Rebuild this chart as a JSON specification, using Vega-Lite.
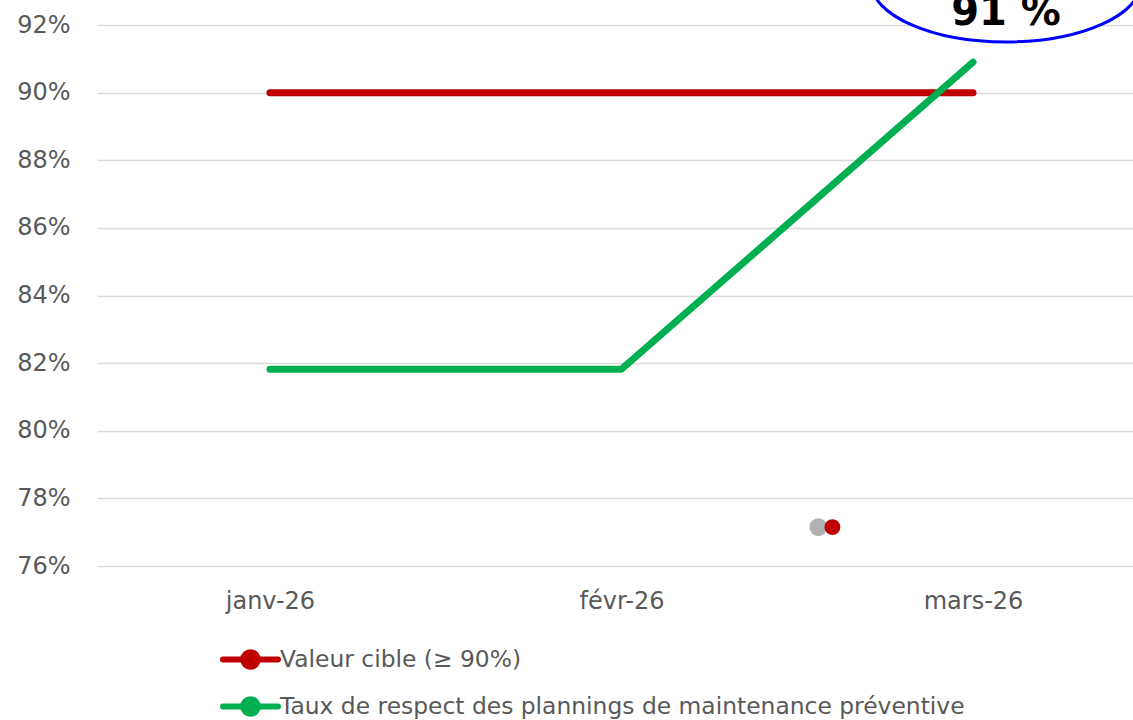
{
  "$schema": "https://vega.github.io/schema/vega-lite/v6.json",
  "width": 1049,
  "height": 541,
  "autosize": {"type": "none"},
  "padding": {"left": 97, "top": 25, "right": 0, "bottom": 154},
  "background": "white",
  "config": {"view": {"stroke": null}, "font": "DejaVu Sans"},
  "datasets": {
    "series": [
      {"serie": "Valeur cible (≥ 90%)", "mois": 0, "valeur": 90},
      {"serie": "Valeur cible (≥ 90%)", "mois": 1, "valeur": 90},
      {"serie": "Valeur cible (≥ 90%)", "mois": 2, "valeur": 90},
      {"serie": "Taux de respect des plannings de maintenance préventive", "mois": 0, "valeur": 81.82},
      {"serie": "Taux de respect des plannings de maintenance préventive", "mois": 1, "valeur": 81.82},
      {"serie": "Taux de respect des plannings de maintenance préventive", "mois": 2, "valeur": 90.9}
    ],
    "point": [{"mois": 1.6, "mois_ombre": 1.56, "valeur": 77.15}],
    "bulle": [{"mois": 2.094, "valeur": 93.27, "texte_y": 92, "label": "91 %"}]
  },
  "layer": [
    {
      "data": {"name": "series"},
      "mark": {"type": "line", "strokeWidth": 7, "strokeCap": "round", "strokeJoin": "round"},
      "encoding": {
        "x": {
          "field": "mois", "type": "quantitative",
          "scale": {"domain": [-0.492, 2.492], "nice": false, "zero": false},
          "axis": {
            "title": null, "values": [0, 1, 2],
            "labelExpr": "['janv-26','févr-26','mars-26'][datum.value]",
            "grid": false, "domain": false, "ticks": false,
            "labelFontSize": 24, "labelColor": "#595959", "labelPadding": 23,
            "labelFont": "DejaVu Sans"
          }
        },
        "y": {
          "field": "valeur", "type": "quantitative",
          "scale": {"domain": [76, 92], "nice": false, "zero": false},
          "axis": {
            "title": null, "values": [76, 78, 80, 82, 84, 86, 88, 90, 92],
            "labelExpr": "datum.value + '%'",
            "grid": true, "gridColor": "#d9d9d9", "gridWidth": 1.5,
            "domain": false, "ticks": false,
            "labelFontSize": 24, "labelColor": "#595959", "labelPadding": 27,
            "labelFont": "DejaVu Sans"
          }
        },
        "color": {
          "field": "serie", "type": "nominal",
          "scale": {
            "domain": ["Valeur cible (≥ 90%)", "Taux de respect des plannings de maintenance préventive"],
            "range": ["#C00000", "#00B050"]
          },
          "legend": {
            "title": null, "orient": "none", "legendX": 132, "legendY": 613,
            "direction": "vertical",
            "symbolType": "M -1.5 0 L 1.5 0 M 0.4 0 A 0.4 0.4 0 1 1 -0.4 0 A 0.4 0.4 0 1 1 0.4 0 Z",
            "symbolSize": 1344, "symbolStrokeWidth": 6,
            "labelFontSize": 23.4, "labelColor": "#595959", "labelFont": "DejaVu Sans",
            "labelOffset": 8, "labelLimit": 0, "rowPadding": 6, "padding": 0,
            "encode": {"symbols": {"update": {"fill": {"scale": "color", "field": "value"}, "strokeCap": {"value": "round"}}}}
          }
        }
      }
    },
    {
      "data": {"name": "point"},
      "mark": {"type": "circle", "size": 320, "color": "#555555", "opacity": 0.45},
      "encoding": {
        "x": {"field": "mois_ombre", "type": "quantitative"},
        "y": {"field": "valeur", "type": "quantitative"}
      }
    },
    {
      "data": {"name": "point"},
      "mark": {"type": "circle", "size": 254, "color": "#C00000", "opacity": 1},
      "encoding": {
        "x": {"field": "mois", "type": "quantitative"},
        "y": {"field": "valeur", "type": "quantitative"}
      }
    },
    {
      "data": {"name": "bulle"},
      "mark": {
        "type": "point", "filled": false,
        "shape": "M -1 0 A 1 0.444 0 1 0 1 0 A 1 0.444 0 1 0 -1 0 Z",
        "size": 72900, "fill": "white", "fillOpacity": 1, "stroke": "#0000FF", "strokeWidth": 3, "opacity": 1
      },
      "encoding": {
        "x": {"field": "mois", "type": "quantitative"},
        "y": {"field": "valeur", "type": "quantitative"}
      }
    },
    {
      "data": {"name": "bulle"},
      "mark": {"type": "text", "fontSize": 40, "fontWeight": "bold", "color": "black", "align": "center", "baseline": "alphabetic", "font": "DejaVu Sans"},
      "encoding": {
        "x": {"field": "mois", "type": "quantitative"},
        "y": {"field": "texte_y", "type": "quantitative"},
        "text": {"field": "label"}
      }
    }
  ]
}
